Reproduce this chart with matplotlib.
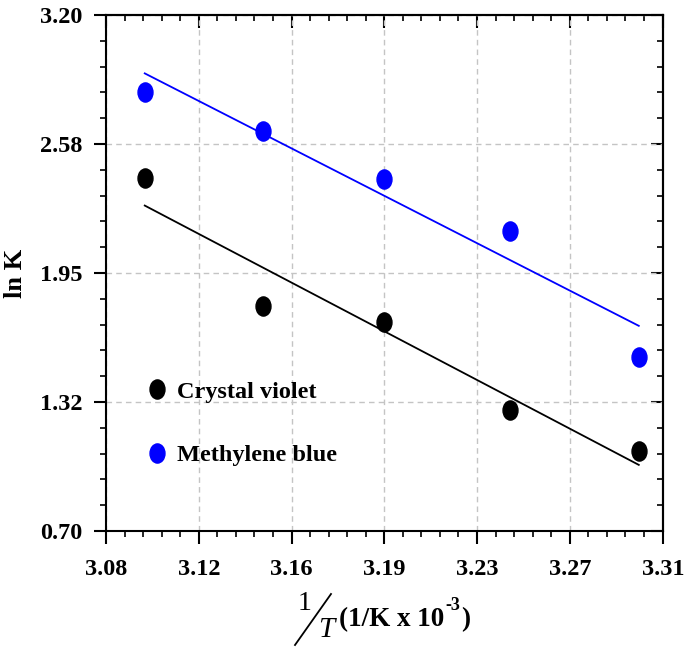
import matplotlib
matplotlib.use('Agg')
from matplotlib import pyplot as plt
from matplotlib.path import Path
from matplotlib.lines import Line2D
from matplotlib.ticker import AutoMinorLocator, FixedLocator
import numpy as np

# 1/T in 1/K x 10^-3
inv_temp = [3.096, 3.145, 3.195, 3.247, 3.300]
ln_k_cv = [2.409, 1.792, 1.711, 1.286, 1.088]   # crystal violet
ln_k_mb = [2.827, 2.638, 2.405, 2.155, 1.545]   # methylene blue

x_ticks = [3.08, 3.1183, 3.1567, 3.195, 3.2333, 3.2717, 3.31]
x_labels = ['3.08', '3.12', '3.16', '3.19', '3.23', '3.27', '3.31']
y_ticks = [0.70, 1.325, 1.95, 2.575, 3.20]
y_labels = ['0.70', '1.32', '1.95', '2.58', '3.20']

plt.rcParams['font.family'] = 'Liberation Serif'
plt.rcParams['font.weight'] = 'bold'

W, H = 685, 655
fig = plt.figure(figsize=(W / 100, H / 100), dpi=100)
ax = fig.add_axes([106 / W, 1 - 531 / H, 557 / W, 516 / H])

# tall ellipse marker
circ = Path.unit_circle()
ellipse = Path(circ.vertices * np.array([0.78, 1.0]), circ.codes)

for y, col, lab in [(ln_k_cv, 'black', 'Crystal violet'),
                    (ln_k_mb, '#0000ff', 'Methylene blue')]:
    ax.plot(inv_temp, y, ls='none', marker=ellipse, ms=13.8, color=col,
            label=lab, zorder=3)
    k, b = np.polyfit(inv_temp, y, 1)
    xf = np.array([min(inv_temp), max(inv_temp)])
    ax.plot(xf, k * xf + b, color=col, lw=1.3, zorder=2)

ax.set_xlim(3.08, 3.31)
ax.set_ylim(0.70, 3.20)
ax.set_xticks(x_ticks)
ax.set_xticklabels(x_labels)
ax.set_yticks(y_ticks)
ax.set_yticklabels(y_labels)
ax.xaxis.set_minor_locator(AutoMinorLocator(5))
ax.yaxis.set_minor_locator(AutoMinorLocator(5))
ax.tick_params(which='major', direction='out', length=9, width=1.5,
               labelsize=17.5, pad=8)
ax.tick_params(which='minor', direction='out', length=4.5, width=1.2)
ax.tick_params(axis='x', pad=11)
for s in ax.spines.values():
    s.set_linewidth(1.5)

# inward ticks on top and right
top = ax.secondary_xaxis('top')
right = ax.secondary_yaxis('right')
top.xaxis.set_major_locator(FixedLocator(x_ticks))
top.xaxis.set_minor_locator(AutoMinorLocator(5))
right.yaxis.set_major_locator(FixedLocator(y_ticks))
right.yaxis.set_minor_locator(AutoMinorLocator(5))
for sec in (top, right):
    sec.tick_params(which='major', direction='in', length=9, width=1.5)
    sec.tick_params(which='minor', direction='in', length=4.5, width=1.2)
    sec.tick_params(labeltop=False, labelright=False)
    for s in sec.spines.values():
        s.set_linewidth(1.5)

ax.grid(True, which='major', color='#c4c4c4', lw=1.0, ls=(0, (4, 3)))
ax.set_axisbelow(True)

ax.set_ylabel('ln K', fontsize=19, fontweight='bold')
ax.yaxis.set_label_coords(-0.141, 0.5)

leg = ax.legend(loc='upper left', bbox_to_anchor=(0.052, 0.31), frameon=False,
                fontsize=17.5, handletextpad=0.35, labelspacing=1.7,
                handlelength=1.0, borderaxespad=0)

# x label: 1/T (1/K x 10^-3)
fig.text(305 / W, 1 - 603 / H, '1', fontsize=20, fontweight='normal',
         ha='center', va='center')
fig.add_artist(Line2D([295 / W, 331 / W], [1 - 645 / H, 1 - 594 / H],
                      color='black', lw=1.3))
fig.text(326 / W, 1 - 630 / H, 'T', fontsize=21, fontweight='normal',
         style='italic', ha='center', va='center')
main = fig.text(339 / W, 1 - 626 / H, '(1/K x 10', fontsize=19.5,
                fontweight='bold', ha='left', va='baseline')
fig.canvas.draw()
bb = main.get_window_extent()
sup = fig.text((bb.x1 + 1) / W, 1 - 610 / H, '-3', fontsize=13,
               fontweight='bold', ha='left', va='baseline')
fig.canvas.draw()
bb2 = sup.get_window_extent()
fig.text((bb2.x1 + 1) / W, 1 - 626 / H, ')', fontsize=19.5,
         fontweight='bold', ha='left', va='baseline')

fig.savefig('out.png', dpi=100)
